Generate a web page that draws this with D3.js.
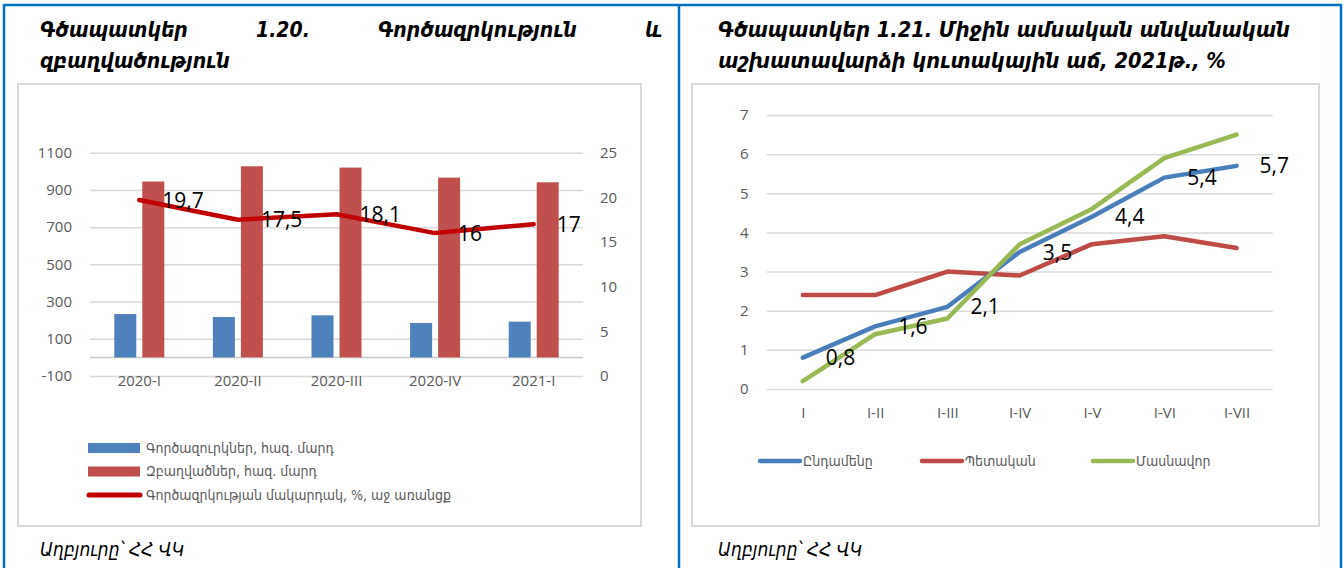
<!DOCTYPE html>
<html>
<head>
<meta charset="utf-8">
<script src="https://cdn.jsdelivr.net/npm/d3@7"></script>
<style>
  body { margin: 0; background: #fff; }
  svg { display: block; }
  .num { font-family: "Open Sans", "Liberation Sans", sans-serif; }
  .arm { font-family: "DejaVu Sans Condensed", "DejaVu Sans", sans-serif; }
</style>
</head>
<body>
<svg id="page" width="1344" height="568"></svg>
<script>
// ---- chart 1.20 data
const quarters = ['2020-I', '2020-II', '2020-III', '2020-IV', '2021-I'];
const unemployed = [233, 217, 226, 185, 192];
const employed = [945, 1027, 1020, 966, 941];
const unemploymentRate = [19.7, 17.5, 18.1, 16, 17];
const leftTicks = [-100, 100, 300, 500, 700, 900, 1100];
const rightTicks = [0, 5, 10, 15, 20, 25];
const legend1 = ['Գործազուրկներ, հազ. մարդ', 'Զբաղվածներ, հազ. մարդ', 'Գործազրկության մակարդակ, %, աջ առանցք'];

// ---- chart 1.21 data
const periods = ['I', 'I-II', 'I-III', 'I-IV', 'I-V', 'I-VI', 'I-VII'];
const wageTotal = [0.8, 1.6, 2.1, 3.5, 4.4, 5.4, 5.7];
const wagePublic = [2.4, 2.4, 3.0, 2.9, 3.7, 3.9, 3.6];
const wagePrivate = [0.2, 1.4, 1.8, 3.7, 4.6, 5.9, 6.5];
const wageTicks = [0, 1, 2, 3, 4, 5, 6, 7];
const legend2 = ['Ընդամենը', 'Պետական', 'Մասնավոր'];

const source = 'Աղբյուրը՝ ՀՀ ՎԿ';
const fmt = (v) => String(v).replace('.', ',');

const svg = d3.select('#page');
const gridColor = '#d9d9d9';
const axisText = '#595959';

// outer blue frames
svg.append('path')
  .attr('d', 'M4,568 V5 H1341 V568 M679,5 V568')
  .attr('fill', 'none')
  .attr('stroke', '#0070c0')
  .attr('stroke-width', 2.5);

// gray chart frames
[[18, 84, 623, 442], [692, 84, 627, 442]].forEach(([x, y, w, h]) => {
  svg.append('rect').attr('x', x).attr('y', y).attr('width', w).attr('height', h)
    .attr('fill', '#fff').attr('stroke', gridColor).attr('stroke-width', 2);
});

// ---- titles
function justifyLine(words, x0, x1, y) {
  const nodes = words.map((w) => svg.append('text')
    .attr('class', 'arm').attr('y', y)
    .attr('font-size', 21).attr('font-weight', 'bold').attr('font-style', 'italic')
    .text(w));
  const widths = nodes.map((n) => n.node().getComputedTextLength());
  const gap = (x1 - x0 - d3.sum(widths)) / (words.length - 1);
  let x = x0;
  nodes.forEach((n, i) => { n.attr('x', x); x += widths[i] + gap; });
}
justifyLine(['Գծապատկեր', '1.20.', 'Գործազրկություն', 'և'], 40, 662, 37);
svg.append('text').attr('class', 'arm').attr('x', 40).attr('y', 68)
  .attr('font-size', 21).attr('font-weight', 'bold').attr('font-style', 'italic')
  .text('զբաղվածություն');

svg.append('text').attr('class', 'arm').attr('x', 718).attr('y', 37)
  .attr('font-size', 21.6).attr('font-weight', 'bold').attr('font-style', 'italic')
  .text('Գծապատկեր 1.21. Միջին ամսական անվանական');
svg.append('text').attr('class', 'arm').attr('x', 718).attr('y', 68)
  .attr('font-size', 21.6).attr('font-weight', 'bold').attr('font-style', 'italic')
  .text('աշխատավարձի կուտակային աճ, 2021թ., %');

// source notes
[40, 718].forEach((x) => {
  svg.append('text').attr('class', 'arm').attr('x', x).attr('y', 556)
    .attr('font-size', 19).attr('font-style', 'italic').text(source);
});

// =============== chart 1.20 ===============
function createBarLineChart() {
  const plot = {left: 90, right: 583, top: 152.7, bottom: 376};
  const g = svg.append('g');

  const xscale = d3.scaleBand().domain(quarters).range([plot.left, plot.right]);
  const xinner = d3.scaleBand().domain(['u', 'e']).range([-25, 25]).paddingInner(6 / 28);
  const yleft = d3.scaleLinear().domain([-100, 1100]).range([plot.bottom, plot.top]);
  const yright = d3.scaleLinear().domain([0, 25]).range([plot.bottom, plot.top]);

  // gridlines
  const grid = g.append('g')
    .attr('transform', `translate(${plot.left},0)`)
    .call(d3.axisLeft(yleft).tickValues(leftTicks).tickSize(-(plot.right - plot.left)).tickFormat(''));
  grid.select('.domain').remove();
  grid.selectAll('line').attr('stroke', gridColor).attr('stroke-width', 1.5);

  // left axis
  const gy = g.append('g')
    .attr('transform', `translate(${plot.left},0)`)
    .call(d3.axisLeft(yleft).tickValues(leftTicks).tickFormat(String).tickSize(0).tickPadding(18));
  gy.select('.domain').remove();
  gy.selectAll('text').attr('class', 'num').attr('font-size', 15).attr('fill', axisText);

  // right axis
  const gy2 = g.append('g')
    .attr('transform', `translate(${plot.right},0)`)
    .call(d3.axisRight(yright).tickValues(rightTicks).tickFormat(String).tickSize(0).tickPadding(17));
  gy2.select('.domain').remove();
  gy2.selectAll('text').attr('class', 'num').attr('font-size', 15).attr('fill', axisText);

  // category axis
  const gx = g.append('g')
    .attr('transform', `translate(0,${plot.bottom})`)
    .call(d3.axisBottom(xscale).tickSize(0).tickPadding(0));
  gx.select('.domain').remove();
  gx.selectAll('text').attr('class', 'num').attr('font-size', 15).attr('fill', axisText)
    .attr('dy', '0.32em').attr('y', 5);

  // zero line
  g.append('line')
    .attr('x1', plot.left).attr('x2', plot.right)
    .attr('y1', yleft(0)).attr('y2', yleft(0))
    .attr('stroke', '#c8c8c8').attr('stroke-width', 1.5);

  // bars
  const series = [
    {key: 'u', values: unemployed, color: '#4f81bd'},
    {key: 'e', values: employed, color: '#c0504d'}
  ];
  series.forEach((s) => {
    g.append('g').selectAll('rect').data(s.values).enter().append('rect')
      .attr('x', (d, i) => xscale(quarters[i]) + xscale.bandwidth() / 2 + xinner(s.key))
      .attr('width', xinner.bandwidth())
      .attr('y', (d) => yleft(d))
      .attr('height', (d) => yleft(0) - yleft(d))
      .attr('fill', s.color);
  });

  // rate line
  const cx = (i) => xscale(quarters[i]) + xscale.bandwidth() / 2;
  const line = d3.line().x((d, i) => cx(i)).y((d) => yright(d));
  g.append('path').datum(unemploymentRate)
    .attr('d', line)
    .attr('fill', 'none').attr('stroke', '#c00000').attr('stroke-width', 4.5)
    .attr('stroke-linejoin', 'round').attr('stroke-linecap', 'round');

  g.append('g').selectAll('text').data(unemploymentRate).enter().append('text')
    .attr('class', 'num')
    .attr('x', (d, i) => cx(i) + 23)
    .attr('y', (d) => yright(d))
    .attr('dy', '0.36em')
    .attr('font-size', 21)
    .attr('fill', '#000')
    .text(fmt);

  // legend
  const lg = g.append('g');
  legend1.forEach((label, i) => {
    const y = 448 + i * 23.5;
    if (i < 2) {
      lg.append('rect').attr('x', 88).attr('y', y - 5).attr('width', 52).attr('height', 10)
        .attr('fill', series[i].color);
    } else {
      lg.append('line').attr('x1', 89).attr('x2', 140).attr('y1', y).attr('y2', y)
        .attr('stroke', '#c00000').attr('stroke-width', 5).attr('stroke-linecap', 'round');
    }
    lg.append('text').attr('class', 'arm').attr('x', 146).attr('y', y).attr('dy', '0.35em')
      .attr('font-size', 14).attr('fill', axisText).text(label);
  });
}

// =============== chart 1.21 ===============
function createLineChart() {
  const plot = {left: 766.7, right: 1272.7, top: 115, bottom: 389};
  const g = svg.append('g');

  const xscale = d3.scalePoint().domain(periods).range([plot.left, plot.right]).padding(0.5);
  const yscale = d3.scaleLinear().domain([0, 7]).range([plot.bottom, plot.top]);

  const grid = g.append('g')
    .attr('transform', `translate(${plot.left},0)`)
    .call(d3.axisLeft(yscale).tickValues(wageTicks).tickSize(-(plot.right - plot.left)).tickFormat(''));
  grid.select('.domain').remove();
  grid.selectAll('line').attr('stroke', gridColor).attr('stroke-width', 1.5);

  const gy = g.append('g')
    .attr('transform', `translate(${plot.left},0)`)
    .call(d3.axisLeft(yscale).tickValues(wageTicks).tickFormat(String).tickSize(0).tickPadding(18));
  gy.select('.domain').remove();
  gy.selectAll('text').attr('class', 'num').attr('font-size', 15).attr('fill', axisText);

  const gx = g.append('g')
    .attr('transform', `translate(0,${plot.bottom})`)
    .call(d3.axisBottom(xscale).tickSize(0).tickPadding(0));
  gx.select('.domain').remove();
  gx.selectAll('text').attr('class', 'num').attr('font-size', 15).attr('fill', axisText)
    .attr('dy', '0.32em').attr('y', 24);

  const series = [
    {key: legend2[0], values: wageTotal, color: '#4a7ebb'},
    {key: legend2[1], values: wagePublic, color: '#be4b48'},
    {key: legend2[2], values: wagePrivate, color: '#98b954'}
  ];
  const line = d3.line().x((d, i) => xscale(periods[i])).y((d) => yscale(d));

  // draw order: public, total, private on top
  [series[1], series[0], series[2]].forEach((s) => {
    g.append('path').datum(s.values)
      .attr('d', line)
      .attr('fill', 'none').attr('stroke', s.color).attr('stroke-width', 4.5)
      .attr('stroke-linejoin', 'round').attr('stroke-linecap', 'round');
  });

  g.append('g').selectAll('text').data(wageTotal).enter().append('text')
    .attr('class', 'num')
    .attr('x', (d, i) => xscale(periods[i]) + 23)
    .attr('y', (d) => yscale(d))
    .attr('dy', '0.36em')
    .attr('font-size', 21)
    .attr('fill', '#000')
    .text(fmt);

  // legend
  const lx = [760, 922, 1093];
  series.forEach((s, i) => {
    g.append('line').attr('x1', lx[i]).attr('x2', lx[i] + 40).attr('y1', 461).attr('y2', 461)
      .attr('stroke', s.color).attr('stroke-width', 4.5).attr('stroke-linecap', 'round');
    g.append('text').attr('class', 'arm').attr('x', lx[i] + 43).attr('y', 461).attr('dy', '0.35em')
      .attr('font-size', 14).attr('fill', axisText).text(s.key);
  });
}

createBarLineChart();
createLineChart();
</script>
</body>
</html>
